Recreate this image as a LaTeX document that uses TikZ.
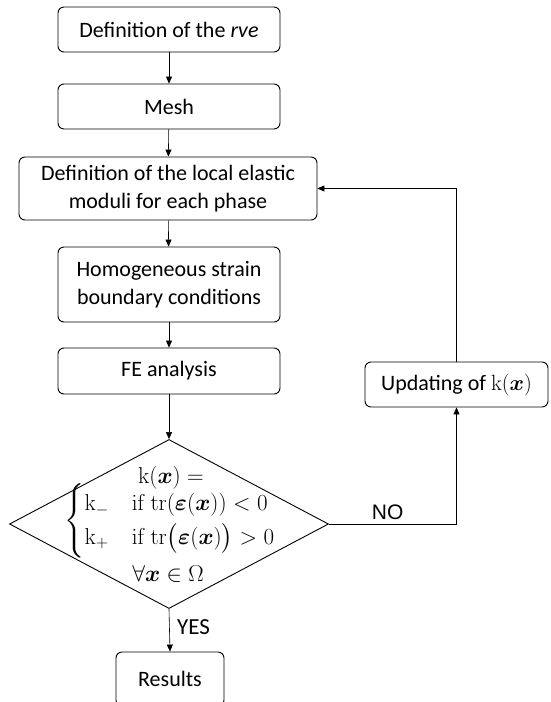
\RequirePackage{fix-cm}
\documentclass[tikz,border=0pt]{standalone}
\usepackage{amsmath}
\usepackage{bm}
\usepackage[no-math]{fontspec}
\setmainfont{Carlito}
\newfontfamily\arialfont{Liberation Sans}
\usetikzlibrary{shapes.geometric,arrows.meta}
\tikzset{
  box/.style={draw, line width=0.9pt, rounded corners=6pt, align=center, inner sep=0pt,
    font=\fontsize{22}{28}\selectfont},
  conn/.style={line width=0.6pt, -{Triangle[length=7pt,width=6pt]}},
  mathline/.style={inner sep=0pt, font=\fontsize{23}{28}\selectfont},
}
\begin{document}
\begin{tikzpicture}[x=1pt,y=-1pt]
\useasboundingbox (0,0) rectangle (551,702);
\clip (0,0) rectangle (551,702);
\node[box, minimum width=222pt, minimum height=45pt] (b1) at (169,29.5) {Definition of the \textit{rve}};
\node[box, minimum width=222pt, minimum height=45pt] (b2) at (169,106.5) {Mesh};
\node[box, minimum width=298pt, minimum height=63pt] (b3) at (168,188.5) {Definition of the local elastic\\moduli for each phase};
\node[box, minimum width=222pt, minimum height=75pt] (b4) at (169,284.5) {Homogeneous strain\\boundary conditions};
\node[box, minimum width=222pt, minimum height=46pt] (b5) at (169,371) {FE analysis};
\node[box, minimum width=183pt, minimum height=45pt] (upd) at (456.5,384.5) {Updating of $\mathrm{k}(\bm{x})$};
\node[box, minimum width=108pt, minimum height=54pt] (res) at (170,679) {Results};
\node[draw, line width=0.9pt, diamond, minimum width=319pt, minimum height=169pt, inner sep=0pt] (dec) at (169,524) {};
\node[mathline] (dl1) at (171,478) {$\mathrm{k}(\bm{x}) =$};
\node[mathline] (dl2) at (170,521) {\renewcommand\arraystretch{1.05}$\begin{cases}\mathrm{k}_{-} & \mathrm{if}\ \mathrm{tr}(\bm{\varepsilon}(\bm{x})) < 0\\ \mathrm{k}_{+} & \mathrm{if}\ \mathrm{tr}\big(\bm{\varepsilon}(\bm{x})\big) > 0\end{cases}$};
\node[mathline] (dl3) at (168,574) {$\forall \bm{x} \in \Omega$};
\draw[conn] (b1) -- (b2);
\draw[conn] (b2) -- (b3);
\draw[conn] (b3) -- (b4);
\draw[conn] (b4) -- (b5);
\draw[conn] (b5) -- (dec.north);
\draw[conn] (dec.south) -- (res.north) node[pos=0.42, right=4pt, font=\fontsize{23}{28}\selectfont] (yes) {YES};
\draw[conn] (dec.east) -| (upd.south) node[pos=0.23, above=1pt, font=\arialfont\fontsize{21}{26}\selectfont] (no) {NO};
\draw[conn] (upd.north) |- (b3.east);
\end{tikzpicture}
\end{document}
